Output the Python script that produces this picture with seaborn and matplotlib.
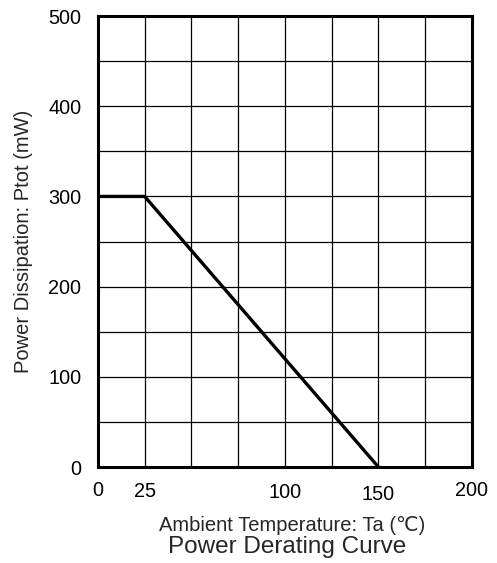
import seaborn as sns
import matplotlib.pyplot as plt
import matplotlib.transforms as mtransforms
import pandas as pd

# derating curve points
temps = [0, 25, 150]
power = [300, 300, 0]

x_ticks = [0, 25, 50, 75, 100, 125, 150, 175, 200]
x_labels = ['0', '25', '', '', '100', '', '150', '', '200']
y_ticks = [0, 50, 100, 150, 200, 250, 300, 350, 400, 450, 500]
y_labels = ['0', '', '100', '', '200', '', '300', '', '400', '', '500']

sns.set_style('white')
plt.rcParams['font.family'] = ['Liberation Sans', 'DejaVu Sans']

df = pd.DataFrame({'Ta': temps, 'Ptot': power})

fig = plt.figure(figsize=(4.97, 5.63), dpi=100)
ax = fig.add_axes([0.197, 0.1705, 0.7525, 0.801])

sns.lineplot(data=df, x='Ta', y='Ptot', ax=ax, color='black', linewidth=2.4, zorder=3)

ax.set_xlim(0, 200)
ax.set_ylim(0, 500)
ax.set_xticks(x_ticks)
ax.set_xticklabels(x_labels, fontsize=14.3)
ax.set_yticks(y_ticks)
ax.set_yticklabels(y_labels, fontsize=14.3)
ax.tick_params(axis='x', length=0, pad=10, colors='black')
ax.tick_params(axis='y', length=0, pad=12, colors='black')
ax.grid(True, color='black', linewidth=0.9)
for s in ax.spines.values():
    s.set_color('black')
    s.set_linewidth(2.2)

# the 100 and 150 labels sit a little lower in the original
for lab, dy in zip(ax.get_xticklabels(), [0, -1, 0, 0, -2, 0, -4, 0, 0]):
    lab.set_transform(lab.get_transform() + mtransforms.ScaledTranslation(0, dy / 100, fig.dpi_scale_trans))

ax.set_xlabel('Ambient Temperature: Ta (℃)', fontsize=14.5, labelpad=9, x=0.52)
ax.set_ylabel('Power Dissipation: Ptot (mW)', fontsize=14.5, labelpad=11)
fig.text(0.577, 0.0284, 'Power Derating Curve', ha='center', va='center', fontsize=17.5)

fig.savefig('out.png', dpi=100)
